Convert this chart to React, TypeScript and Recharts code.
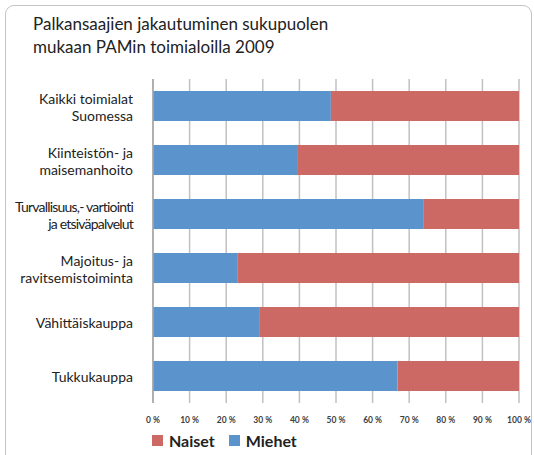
import { BarChart, Bar, XAxis, YAxis, CartesianGrid } from "recharts";

const categories = [
  "Kaikki toimialat\nSuomessa",
  "Kiinteistön- ja\nmaisemanhoito",
  "Turvallisuus,- vartiointi\nja etsiväpalvelut",
  "Majoitus- ja\nravitsemistoiminta",
  "Vähittäiskauppa",
  "Tukkukauppa",
];
const miehet = [48.6, 39.6, 74.0, 23.0, 29.0, 66.8];
const naiset = [51.4, 60.4, 26.0, 77.0, 71.0, 33.2];
const xTicks = [0, 10, 20, 30, 40, 50, 60, 70, 80, 90, 100];

const data = categories.map((name, i) => ({ name, miehet: miehet[i], naiset: naiset[i] }));

const BLUE = "#5b93cd";
const RED = "#cd6964";

const CategoryTick = (props: any) => {
  const { x, y, payload } = props;
  const lines = String(payload.value).split("\n");
  const narrow = lines.some((l) => l.length > 20);
  const lh = 17;
  const start = y - ((lines.length - 1) * lh) / 2;
  return (
    <text
      x={x - 12}
      y={start}
      textAnchor="end"
      fontFamily="Lato"
      fontSize={14}
      fill="#222"
      letterSpacing={narrow ? -0.8 : 0}
      dominantBaseline="central"
    >
      {lines.map((l, i) => (
        <tspan key={i} x={x - 12} y={start + i * lh}>
          {l}
        </tspan>
      ))}
    </text>
  );
};

const PctTick = (props: any) => {
  const { x, y, payload } = props;
  return (
    <text x={x} y={y + 12} textAnchor="middle" fontFamily="Lato" fontSize={8.5} fontWeight="bold" fill="#404040">
      {payload.value} %
    </text>
  );
};

export default function App() {
  return (
    <div style={{ position: "absolute", left: 0, top: 0, width: 534, height: 455, background: "#fff", overflow: "hidden" }}>
      <div
        style={{
          position: "absolute",
          left: 5,
          top: 5,
          width: 527,
          height: 470,
          border: "1.5px solid #c4c4c4",
          borderRadius: 9,
          boxSizing: "border-box",
        }}
      />
      <div
        style={{
          position: "absolute",
          left: 33,
          top: 12,
          fontFamily: "Lato",
          fontSize: 17,
          lineHeight: "23px",
          color: "#222",
        }}
      >
        Palkansaajien jakautuminen sukupuolen
        <br />
        mukaan PAMin toimialoilla 2009
      </div>
      <div style={{ position: "absolute", left: 0, top: 0 }}>
        <BarChart
          width={534}
          height={455}
          data={data}
          layout="vertical"
          barSize={30}
          margin={{ top: 79, right: 15, left: 0, bottom: 0 }}
        >
          <CartesianGrid horizontal={false} vertical stroke="#c0c0c0" strokeWidth={1.5} />
          <XAxis
            type="number"
            domain={[0, 100]}
            ticks={xTicks}
            axisLine={false}
            tickLine={false}
            tick={<PctTick />}
            interval={0}
            height={52}
          />
          <YAxis
            type="category"
            dataKey="name"
            width={153}
            axisLine={{ stroke: "#a6a6a6", strokeWidth: 1.5 }}
            tickLine={false}
            tick={<CategoryTick />}
            interval={0}
          />
          <Bar dataKey="miehet" stackId="a" fill={BLUE} isAnimationActive={false} />
          <Bar dataKey="naiset" stackId="a" fill={RED} isAnimationActive={false} />
        </BarChart>
      </div>
      <div
        style={{
          position: "absolute",
          left: 152,
          top: 431,
          display: "flex",
          alignItems: "center",
          fontFamily: "Lato",
          fontWeight: "bold",
          fontSize: 16,
          color: "#222",
        }}
      >
        <span style={{ width: 11, height: 11, background: RED, marginRight: 6 }} />
        <span style={{ marginRight: 14 }}>Naiset</span>
        <span style={{ width: 11, height: 11, background: BLUE, marginRight: 6 }} />
        <span>Miehet</span>
      </div>
    </div>
  );
}
